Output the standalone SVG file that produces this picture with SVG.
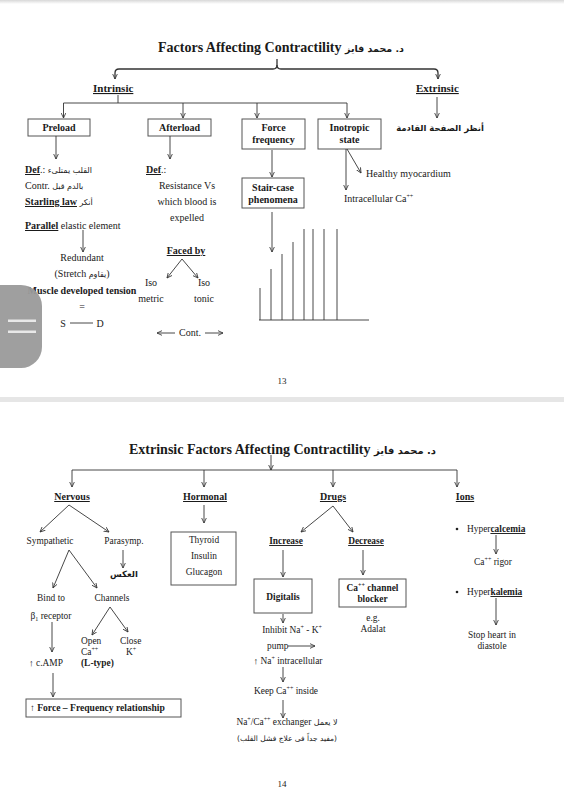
<svg xmlns="http://www.w3.org/2000/svg" width="564" height="800" viewBox="0 0 564 800">
<defs>
<marker id="a" viewBox="0 0 8 8" refX="7.5" refY="4" markerWidth="5.5" markerHeight="5.5" orient="auto" markerUnits="userSpaceOnUse">
<path d="M0,0.5 L7.5,4 L0,7.5" fill="none" stroke="#333" stroke-width="1.2"/>
</marker>
<linearGradient id="sh" x1="0" y1="0" x2="0" y2="1"><stop offset="0" stop-color="#d8d8d8"/><stop offset="1" stop-color="#ffffff"/></linearGradient>
</defs>
<style>
text{font-family:"Liberation Serif","DejaVu Sans",serif;font-size:10px;fill:#1a1a1a}
.b{font-weight:bold}
.u{text-decoration:underline}
.m{text-anchor:middle}
.ar{font-family:"DejaVu Sans",sans-serif;font-size:8px}
.s2{font-size:9.4px}
.box{fill:#fff;stroke:#555;stroke-width:1}
.c{fill:none;stroke:#333;stroke-width:0.9}
.c path,.c line{fill:none;stroke:#333}
.ah{marker-end:url(#a)}
</style>
<rect width="564" height="800" fill="#fff"/>
<rect x="0" y="0" width="564" height="4" fill="url(#sh)"/>
<rect x="0" y="397" width="564" height="5" fill="#e6e6e6"/>

<!-- ===== PAGE 1 ===== -->
<g id="title1"><text x="158" y="52" class="b" style="font-size:14px">Factors Affecting Contractility <tspan style="font-family:'DejaVu Sans',sans-serif;font-size:9.5px">د. محمد فايز</tspan></text></g>
<g id="intrinsic"><text x="93" y="92" class="b u" style="font-size:11px">Intrinsic</text></g>
<g id="extrinsic"><text x="416" y="92" class="b u" style="font-size:11px">Extrinsic</text></g>
<g id="nextpage"><text x="440" y="131" class="m b ar" style="font-size:8.5px">أنظر الصفحة القادمة</text></g>

<g id="preload"><rect class="box" x="28" y="119" width="62" height="17"/><text x="59" y="131" class="m b">Preload</text></g>
<g id="afterload"><rect class="box" x="148" y="119" width="63" height="17"/><text x="179.5" y="131" class="m b">Afterload</text></g>
<g id="forcefreq"><rect class="box" x="242" y="119" width="63" height="30"/><text x="273.5" y="131" class="m b">Force</text><text x="273.5" y="143" class="m b">frequency</text></g>
<g id="inotropic"><rect class="box" x="318" y="119" width="63" height="30"/><text x="349.5" y="131" class="m b">Inotropic</text><text x="349.5" y="143" class="m b">state</text></g>
<g id="staircase"><rect class="box" x="242" y="178" width="62" height="30"/><text x="273" y="191" class="m b">Stair-case</text><text x="273" y="203" class="m b">phenomena</text></g>

<g id="preload-notes">
<text x="25" y="173"><tspan class="b u">Def</tspan>.: <tspan class="ar">القلب يمتلىء</tspan></text>
<text x="25" y="189">Contr. <tspan class="ar">بالدم قبل</tspan></text>
<text x="25" y="205"><tspan class="b u">Starling law</tspan> <tspan class="ar">أنكر</tspan></text>
<text x="25" y="229"><tspan class="b u">Parallel</tspan> elastic element</text>
<text x="82" y="261" class="m">Redundant</text>
<text x="82" y="277" class="m">(Stretch <tspan class="ar">يقاوم</tspan>)</text>
<text x="82" y="294" class="m b">Muscle developed tension</text>
<text x="82" y="310" class="m">=</text>
<text x="63" y="327" class="m">S</text>
<text x="100" y="327" class="m">D</text>
</g>
<g id="afterload-notes">
<text x="146" y="173"><tspan class="b u">Def</tspan>.:</text>
<text x="187" y="189" class="m">Resistance Vs</text>
<text x="187" y="205" class="m">which blood is</text>
<text x="187" y="221" class="m">expelled</text>
<text x="186" y="254" class="m b u">Faced by</text>
<text x="151" y="286" class="m">Iso</text>
<text x="151" y="302" class="m">metric</text>
<text x="204" y="286" class="m">Iso</text>
<text x="204" y="302" class="m">tonic</text>
<text x="190" y="336" class="m">Cont.</text>
</g>
<g id="inotropic-notes">
<text x="366" y="177">Healthy myocardium</text>
<text x="344" y="202">Intracellular Ca<tspan dy="-4" style="font-size:6px">++</tspan></text>
</g>
<g id="page13"><text x="282" y="384" class="m" style="font-size:9px">13</text></g>

<g id="connectors1" class="c">
<path class="ah" d="M277,59 L277,65 Q277,69 273,69 L119,69 Q115,69 115,73 L115,79" stroke-width="1.3"/>
<path class="ah" d="M277,65 Q277,69 281,69 L434,69 Q438,69 438,73 L438,79" stroke-width="1.3"/>
<path d="M118,95 L118,103 M63.5,103 L347,103"/>
<line class="ah" x1="63.5" y1="103" x2="63.5" y2="118"/>
<line class="ah" x1="183" y1="103" x2="183" y2="118"/>
<line class="ah" x1="257" y1="103" x2="257" y2="118"/>
<line class="ah" x1="347" y1="103" x2="347" y2="118"/>
<line class="ah" x1="437" y1="97" x2="437" y2="118"/>
<line class="ah" x1="56" y1="136" x2="56" y2="159"/>
<line class="ah" x1="170" y1="136" x2="170" y2="159"/>
<line class="ah" x1="83" y1="230" x2="83" y2="252"/>
<line class="ah" x1="182" y1="259" x2="167" y2="278"/>
<line class="ah" x1="182" y1="259" x2="198" y2="278"/>
<line class="ah" x1="175" y1="333" x2="157" y2="333"/>
<line class="ah" x1="205" y1="333" x2="223" y2="333"/>
<line x1="70" y1="323" x2="93" y2="323"/>
<line class="ah" x1="272" y1="150" x2="272" y2="177"/>
<line class="ah" x1="272" y1="212" x2="272" y2="252"/>
<line class="ah" x1="346" y1="149" x2="346" y2="190"/>
<line class="ah" x1="347" y1="149" x2="361" y2="173"/>
</g>
<g id="staircase-graph" class="c">
<path d="M259,320 L369,320 M260,320 L260,288 M271,320 L271,269 M282,320 L282,254 M293,320 L293,242 M304,320 L304,229 M313,320 L313,229 M324,320 L324,229 M337,320 L337,229" stroke="#555"/>
</g>

<!-- ===== PAGE 2 ===== -->
<g id="title2"><text x="129" y="454" class="b" style="font-size:14px">Extrinsic Factors Affecting Contractility <tspan style="font-family:'DejaVu Sans',sans-serif;font-size:10px">د. محمد فايز</tspan></text></g>
<g id="nervous"><text x="72" y="500" class="m b u">Nervous</text></g>
<g id="hormonal"><text x="205" y="500" class="m b u">Hormonal</text></g>
<g id="drugs"><text x="333" y="500" class="m b u">Drugs</text></g>
<g id="ions"><text x="465" y="500" class="m b u">Ions</text></g>

<g id="nervous-tree">
<text x="50" y="544" class="m s2">Sympathetic</text>
<text x="124" y="544" class="m s2">Parasymp.</text>
<text x="124" y="577" class="m b ar" style="font-size:8.5px">العكس</text>
<text x="51" y="601" class="m s2">Bind to</text>
<text x="112" y="601" class="m s2">Channels</text>
<text x="51" y="619" class="m s2">β<tspan dy="2" style="font-size:6px">1</tspan><tspan dy="-2"> receptor</tspan></text>
<text x="81" y="644" class="s2">Open</text>
<text x="120" y="644" class="s2">Close</text>
<text x="81" y="655" class="s2">Ca<tspan dy="-4" style="font-size:6px">++</tspan></text>
<text x="126" y="655" class="s2">K<tspan dy="-4" style="font-size:6px">+</tspan></text>
<text x="81" y="666" class="b s2">(L-type)</text>
<text x="29" y="666" class="s2">↑ c.AMP</text>
</g>
<g id="force-freq-rel"><rect class="box" x="26" y="699" width="155" height="18"/><text x="30" y="711" class="b" style="font-size:9.6px">↑ Force – Frequency relationship</text></g>
<g id="hormones"><rect class="box" x="171" y="532" width="65" height="53"/><text x="204" y="543" class="m s2">Thyroid</text><text x="204" y="559" class="m s2">Insulin</text><text x="204" y="575" class="m s2">Glucagon</text></g>
<g id="increase"><text x="286" y="544" class="m b u s2">Increase</text></g>
<g id="decrease"><text x="366" y="544" class="m b u s2">Decrease</text></g>
<g id="digitalis"><rect class="box" x="254" y="579" width="58" height="34"/><text x="283" y="600" class="m b s2">Digitalis</text></g>
<g id="ca-blocker"><rect class="box" x="339" y="579" width="67" height="28"/><text x="372.5" y="591" class="m b s2">Ca<tspan dy="-4" style="font-size:6px">++</tspan><tspan dy="4"> channel</tspan></text><text x="372.5" y="602" class="m b s2">blocker</text></g>
<g id="digitalis-notes">
<text x="292" y="633" class="m s2">Inhibit Na<tspan dy="-4" style="font-size:6px">+</tspan><tspan dy="4"> - K</tspan><tspan dy="-4" style="font-size:6px">+</tspan></text>
<text x="267" y="649" class="s2">pump</text>
<text x="288" y="664" class="m s2">↑ Na<tspan dy="-4" style="font-size:6px">+</tspan><tspan dy="4"> intracellular</tspan></text>
<text x="286" y="694" class="m s2">Keep Ca<tspan dy="-4" style="font-size:6px">++</tspan><tspan dy="4"> inside</tspan></text>
<text x="287" y="725" class="m s2">Na<tspan dy="-4" style="font-size:6px">+</tspan><tspan dy="4">/Ca</tspan><tspan dy="-4" style="font-size:6px">++</tspan><tspan dy="4"> exchanger </tspan><tspan class="ar">لا يعمل</tspan></text>
<text x="287" y="741" class="m ar" style="font-size:7.5px">(مفيد جداً فى علاج فشل القلب)</text>
</g>
<g id="adalat"><text x="373" y="621" class="m s2">e.g.</text><text x="373" y="632" class="m s2">Adalat</text></g>
<g id="hypercalcemia"><circle cx="457" cy="529" r="1.3" fill="#222"/><text x="467" y="532" class="s2">Hyper<tspan class="b u">calcemia</tspan></text><text x="493" y="565" class="m s2">Ca<tspan dy="-4" style="font-size:6px">++</tspan><tspan dy="4"> rigor</tspan></text></g>
<g id="hyperkalemia"><circle cx="457" cy="592" r="1.3" fill="#222"/><text x="467" y="595" class="s2">Hyper<tspan class="b u">kalemia</tspan></text><text x="492" y="638" class="m s2">Stop heart in</text><text x="492" y="649" class="m s2">diastole</text></g>
<g id="page14"><text x="282" y="787" class="m" style="font-size:9px">14</text></g>

<g id="connectors2" class="c">
<line class="ah" x1="271" y1="455" x2="271" y2="470"/>
<line x1="72" y1="470" x2="457" y2="470"/>
<line class="ah" x1="72" y1="470" x2="72" y2="487"/>
<line class="ah" x1="204" y1="470" x2="204" y2="487"/>
<line class="ah" x1="333" y1="470" x2="333" y2="487"/>
<line class="ah" x1="457" y1="470" x2="457" y2="487"/>
<line class="ah" x1="204" y1="505" x2="204" y2="523"/>
<line class="ah" x1="69" y1="505" x2="40" y2="532"/>
<line class="ah" x1="69" y1="505" x2="109" y2="532"/>
<line class="ah" x1="123" y1="550" x2="123" y2="568"/>
<line class="ah" x1="69" y1="550" x2="53" y2="588"/>
<line class="ah" x1="69" y1="550" x2="97" y2="588"/>
<line class="ah" x1="110" y1="607" x2="92" y2="635"/>
<line class="ah" x1="110" y1="607" x2="128" y2="632"/>
<line class="ah" x1="52" y1="622" x2="52" y2="652"/>
<line class="ah" x1="53" y1="673" x2="53" y2="697"/>
<line class="ah" x1="333" y1="506" x2="301" y2="532"/>
<line class="ah" x1="333" y1="506" x2="353" y2="532"/>
<line class="ah" x1="283" y1="550" x2="283" y2="577"/>
<line class="ah" x1="283" y1="614" x2="283" y2="623"/>
<line class="ah" x1="288" y1="646" x2="315" y2="646"/>
<line class="ah" x1="283" y1="667" x2="283" y2="682"/>
<line class="ah" x1="283" y1="700" x2="283" y2="718"/>
<line class="ah" x1="363" y1="550" x2="363" y2="575"/>
<line class="ah" x1="496" y1="535" x2="496" y2="554"/>
<line class="ah" x1="496" y1="598" x2="496" y2="625"/>
</g>

<g id="overlay-button">
<rect x="-21" y="285" width="63" height="83" rx="21" fill="#9a9a9a" opacity="0.95"/>
<rect x="8" y="319.5" width="28" height="2.5" fill="#e8e8e8"/>
<rect x="8" y="330.5" width="28" height="2.5" fill="#e8e8e8"/>
</g>
</svg>
